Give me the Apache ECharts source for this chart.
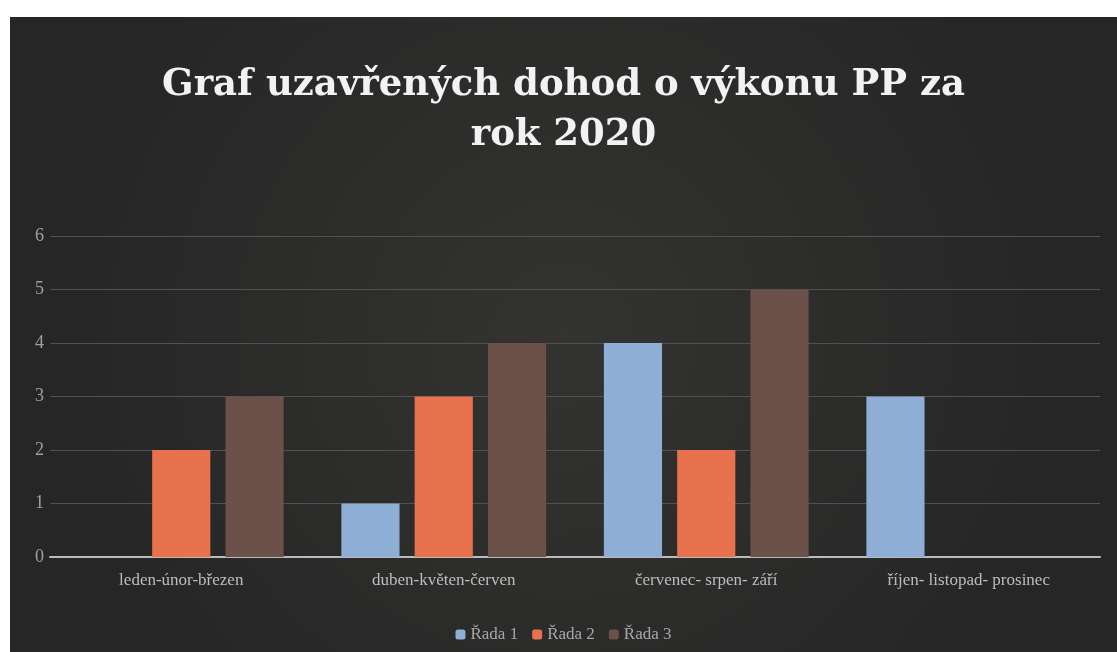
<!DOCTYPE html>
<html><head><meta charset="utf-8">
<script src="https://cdn.jsdelivr.net/npm/echarts@6/dist/echarts.min.js"></script>
<style>html,body{margin:0;padding:0;background:#fff;}#c{position:absolute;left:10px;top:17px;width:1107px;height:635px;}</style>
</head><body><div id="c"></div>
<script>
const categories = ['leden-únor-březen','duben-květen-červen','červenec- srpen- září','říjen- listopad- prosinec'];
const series1 = [0,1,4,3];
const series2 = [2,3,2,0];
const series3 = [3,4,5,0];
const seriesNames = ['Řada 1','Řada 2','Řada 3'];
const colors = ['#8eaed6','#e9724e','#6b5149'];
const chart = echarts.init(document.getElementById('c'));
const serif = '"DejaVu Serif", "Liberation Serif", serif';
chart.setOption({
  backgroundColor: {type:'radial', x:0.5, y:0.5, r:0.8, colorStops:[{offset:0,color:'#333331'},{offset:1,color:'#262626'}]},
  color: colors,
  title: {
    text: 'Graf uzavřených dohod o výkonu PP za\nrok 2020',
    left: 'center', top: 38,
    textStyle: {color:'#f2f2f2', fontFamily: serif, fontWeight:'bold', fontSize:37, lineHeight:50}
  },
  legend: {
    bottom: 4, left:'center', itemWidth:10, itemHeight:10, itemGap:14,
    textStyle:{color:'#a8a8a8', fontFamily:'"Liberation Serif", serif', fontSize:17},
    data: seriesNames
  },
  grid: {left:40, right:17, top:219, bottom:95, containLabel:false},
  xAxis: {
    type:'category', data: categories,
    axisLine:{lineStyle:{color:'#b8bcbc', width:2}},
    axisTick:{show:false},
    axisLabel:{color:'#bdbdbd', fontFamily:'"Liberation Serif", serif', fontSize:17, margin:15}
  },
  yAxis: {
    type:'value', min:0, max:6, interval:1,
    axisLine:{show:false}, axisTick:{show:false},
    axisLabel:{color:'#a0a0a0', fontFamily:'"Liberation Serif", serif', fontSize:18, margin:6},
    splitLine:{lineStyle:{color:'#4e5250', width:1}}
  },
  series: [
    {name:seriesNames[0], type:'bar', data:series1, barGap:'26%', barCategoryGap:'22%'},
    {name:seriesNames[1], type:'bar', data:series2},
    {name:seriesNames[2], type:'bar', data:series3}
  ]
});
</script></body></html>
